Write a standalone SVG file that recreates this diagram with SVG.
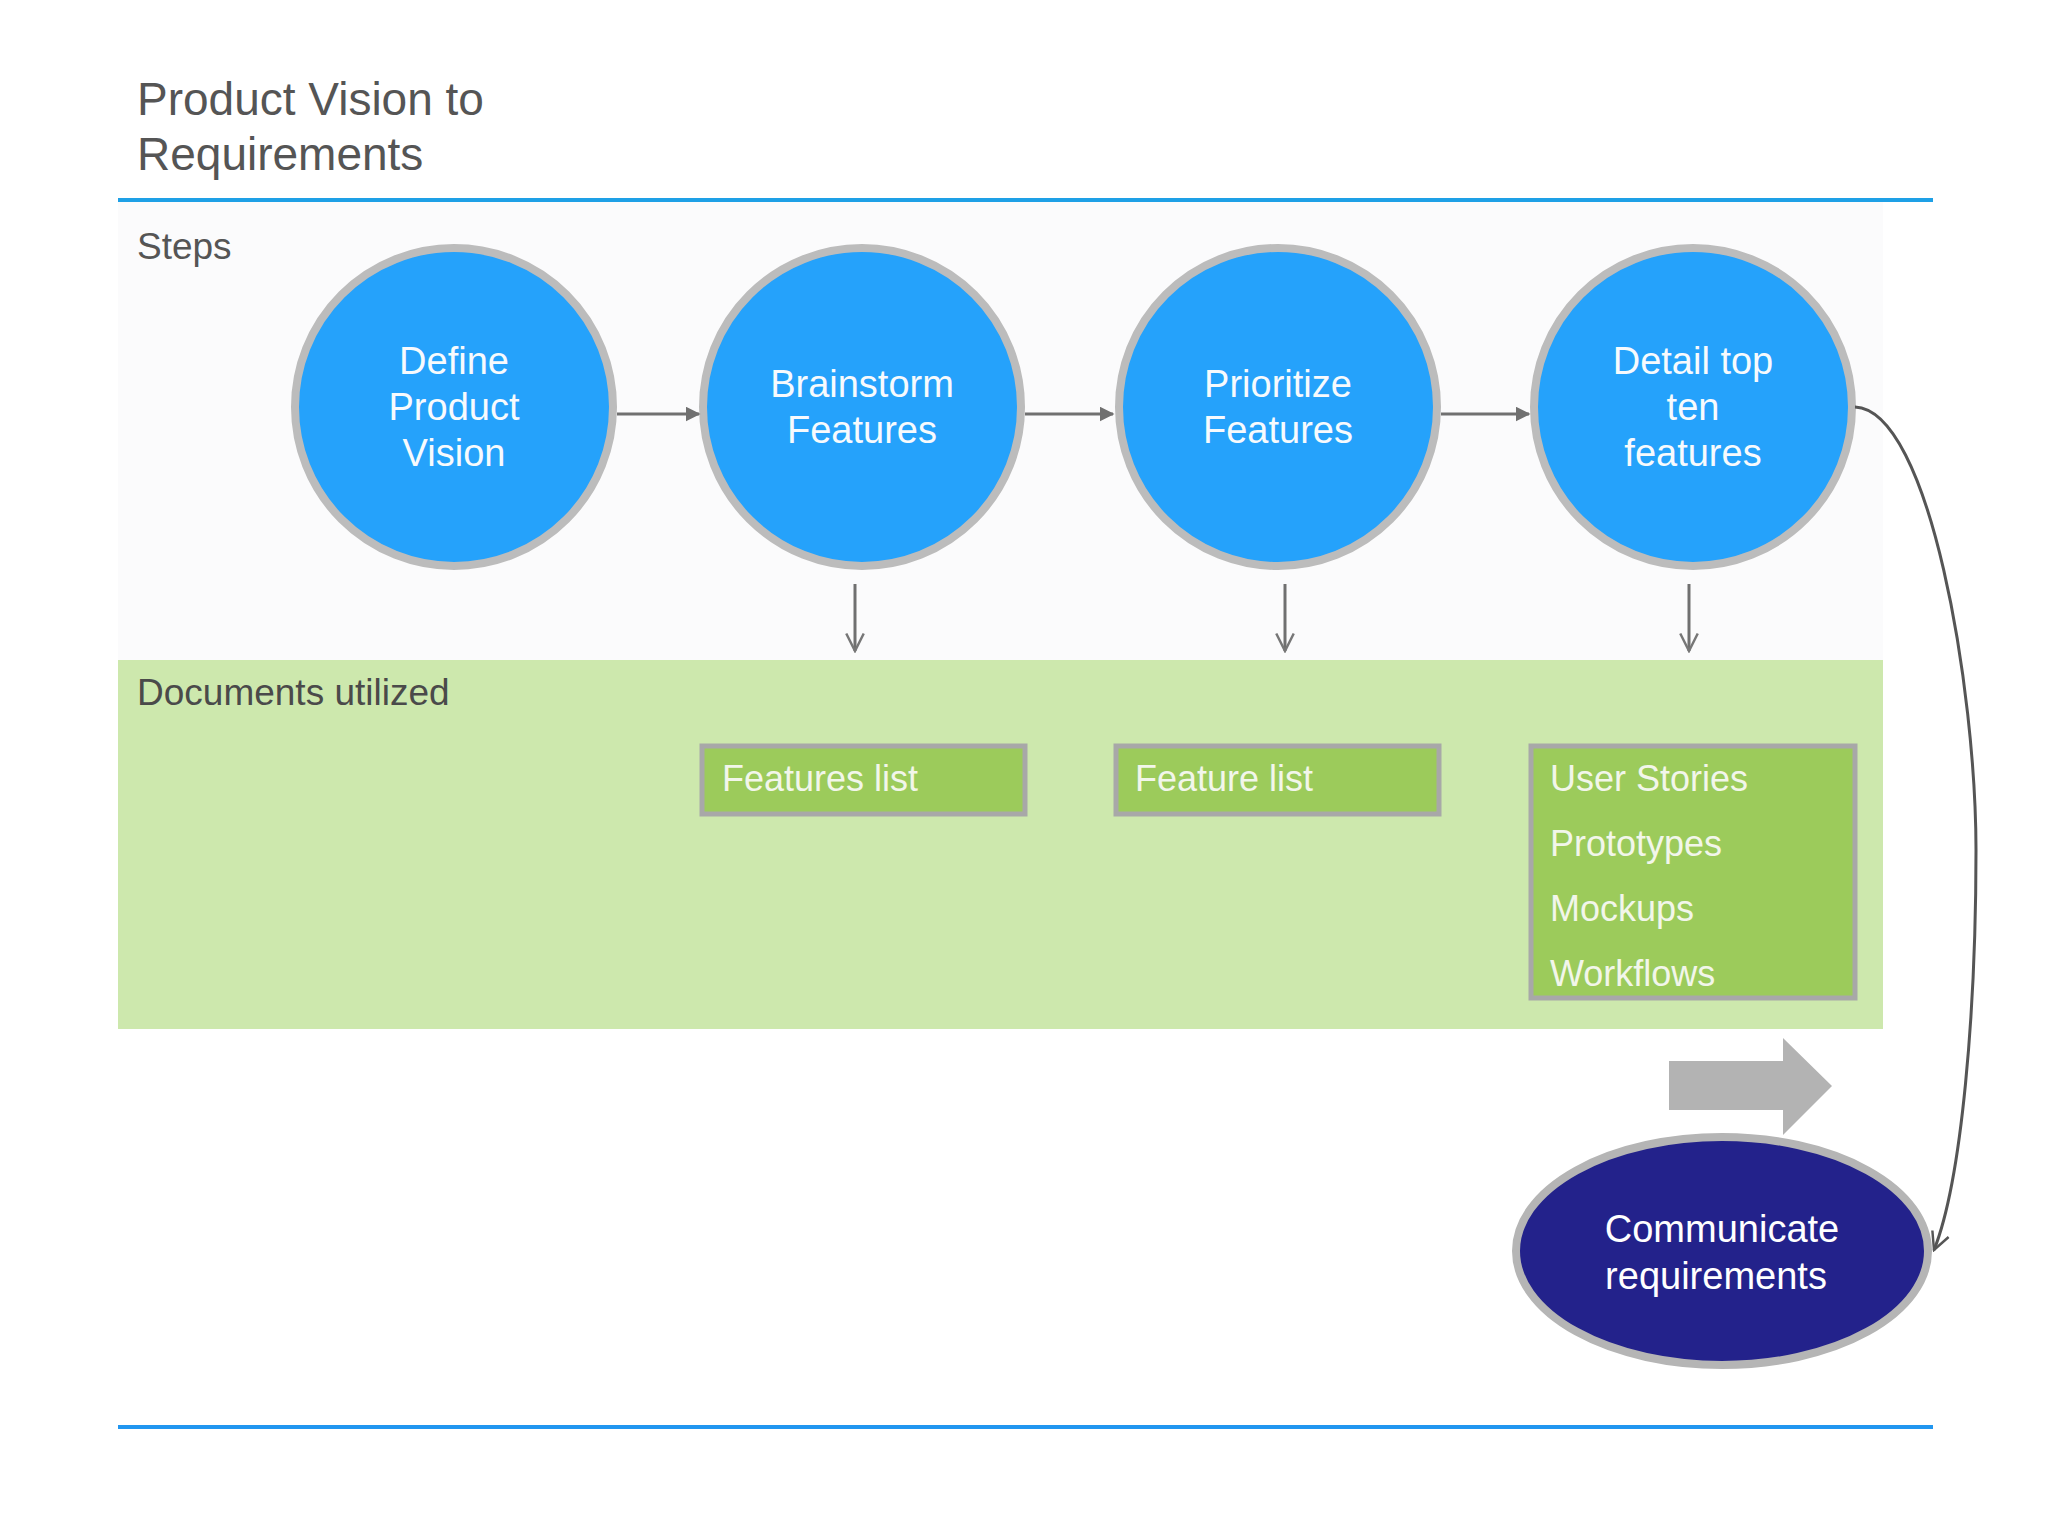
<svg xmlns="http://www.w3.org/2000/svg" width="2048" height="1536" viewBox="0 0 2048 1536">
<style>
text{font-family:"Liberation Sans",Arial,sans-serif}
.step{fill:#25a2fb;stroke:#bcbcbc;stroke-width:8}
.stxt{fill:#f7fafd;font-size:38px;text-anchor:middle}
.doc{fill:#9ccb5b;stroke:#a8a8a8;stroke-width:5}
.dtxt{fill:#f2f6ea;font-size:36px}
.hdr{fill:#555555}
.conn{fill:none;stroke:#707070;stroke-width:3}
</style>
<defs>
<marker id="tri" viewBox="0 0 10 10" refX="9" refY="5" markerWidth="5" markerHeight="5" markerUnits="strokeWidth" orient="auto">
<path d="M0,0 L10,5 L0,10 z" fill="#707070"/>
</marker>
<marker id="vee" viewBox="0 0 12 12" refX="11" refY="6" markerWidth="7" markerHeight="7" markerUnits="strokeWidth" orient="auto">
<path d="M1,1 L11,6 L1,11" fill="none" stroke="#777777" stroke-width="1.4"/>
</marker>
<marker id="vee2" viewBox="0 0 12 12" refX="11" refY="6" markerWidth="7" markerHeight="7" markerUnits="strokeWidth" orient="auto">
<path d="M1,1 L11,6 L1,11" fill="none" stroke="#555555" stroke-width="1.4"/>
</marker>
</defs>
<rect width="2048" height="1536" fill="#ffffff"/>
<rect x="118" y="202" width="1765" height="458" fill="#fbfbfc"/>
<g id="title">
<text class="hdr" x="137" y="115" font-size="46">Product Vision to</text>
<text class="hdr" x="137" y="170" font-size="46">Requirements</text>
</g>
<line x1="118" y1="200" x2="1933" y2="200" stroke="#1ea0e6" stroke-width="4"/>
<line x1="118" y1="1427" x2="1933" y2="1427" stroke="#2196f0" stroke-width="4"/>
<text class="hdr" x="137" y="259" font-size="37">Steps</text>
<g id="docs-band">
<rect x="118" y="660" width="1765" height="369" fill="#cde8ad"/>
<text x="137" y="705" font-size="37" fill="#4a4a4a">Documents utilized</text>
</g>
<g id="define">
<circle class="step" cx="454" cy="407" r="159"/>
<text class="stxt" x="454" y="374">Define</text>
<text class="stxt" x="454" y="420">Product</text>
<text class="stxt" x="454" y="466">Vision</text>
</g>
<g id="brainstorm">
<circle class="step" cx="862" cy="407" r="159"/>
<text class="stxt" x="862" y="397">Brainstorm</text>
<text class="stxt" x="862" y="443">Features</text>
</g>
<g id="prioritize">
<circle class="step" cx="1278" cy="407" r="159"/>
<text class="stxt" x="1278" y="397">Prioritize</text>
<text class="stxt" x="1278" y="443">Features</text>
</g>
<g id="detail">
<circle class="step" cx="1693" cy="407" r="159"/>
<text class="stxt" x="1693" y="374">Detail top</text>
<text class="stxt" x="1693" y="420">ten</text>
<text class="stxt" x="1693" y="466">features</text>
</g>
<g id="features-list">
<rect class="doc" x="702" y="746" width="323" height="68"/>
<text class="dtxt" x="722" y="791">Features list</text>
</g>
<g id="feature-list">
<rect class="doc" x="1116" y="746" width="323" height="68"/>
<text class="dtxt" x="1135" y="791">Feature list</text>
</g>
<g id="detail-docs">
<rect class="doc" x="1531" y="746" width="324" height="252"/>
<text class="dtxt" x="1550" y="791">User Stories</text>
<text class="dtxt" x="1550" y="856">Prototypes</text>
<text class="dtxt" x="1550" y="921">Mockups</text>
<text class="dtxt" x="1550" y="986">Workflows</text>
</g>
<g id="big-arrow">
<path d="M1669,1061 L1783,1061 L1783,1038 L1832,1086 L1783,1135 L1783,1110 L1669,1110 z" fill="#b3b3b3"/>
</g>
<g id="communicate">
<ellipse cx="1722" cy="1251" rx="206" ry="114" fill="#23228b" stroke="#b5b5b5" stroke-width="8"/>
<text x="1722" y="1242" font-size="38" fill="#ffffff" text-anchor="middle">Communicate</text>
<text x="1716" y="1289" font-size="38" fill="#ffffff" text-anchor="middle">requirements</text>
</g>
<g id="connectors">
<line class="conn" x1="617" y1="414" x2="699" y2="414" marker-end="url(#tri)"/>
<line class="conn" x1="1025" y1="414" x2="1113" y2="414" marker-end="url(#tri)"/>
<line class="conn" x1="1441" y1="414" x2="1529" y2="414" marker-end="url(#tri)"/>
<line class="conn" stroke="#777777" x1="855" y1="584" x2="855" y2="651" marker-end="url(#vee)"/>
<line class="conn" stroke="#777777" x1="1285" y1="584" x2="1285" y2="651" marker-end="url(#vee)"/>
<line class="conn" stroke="#777777" x1="1689" y1="584" x2="1689" y2="651" marker-end="url(#vee)"/>
<path d="M1855,407 C1930,410 1976,690 1976,850 C1976,1010 1962,1180 1934,1250" fill="none" stroke="#555555" stroke-width="3" marker-end="url(#vee2)"/>
</g>
</svg>
